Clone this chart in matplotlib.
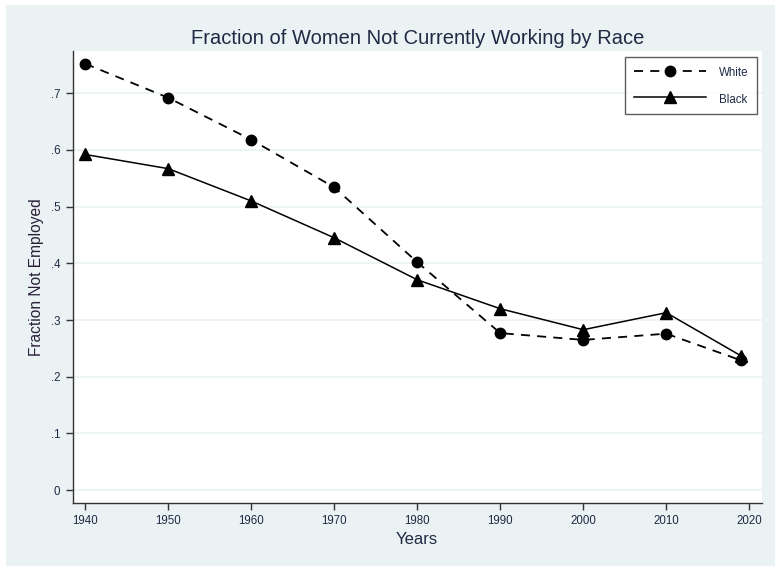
import matplotlib
matplotlib.use("Agg")
import matplotlib.pyplot as plt
from matplotlib.patches import Rectangle
from matplotlib.ticker import FuncFormatter

years = [1940, 1950, 1960, 1970, 1980, 1990, 2000, 2010, 2019]
white = [0.752, 0.692, 0.618, 0.534, 0.402, 0.277, 0.265, 0.276, 0.229]
black = [0.592, 0.567, 0.510, 0.445, 0.371, 0.320, 0.283, 0.313, 0.237]
xticks = [1940, 1950, 1960, 1970, 1980, 1990, 2000, 2010, 2020]
yticks = [0, 0.1, 0.2, 0.3, 0.4, 0.5, 0.6, 0.7]

plt.rcParams['font.family'] = ['Liberation Sans', 'DejaVu Sans']
W, H = 775, 566
fig = plt.figure(figsize=(W / 100, H / 100), dpi=100, facecolor='white')
bg = '#EAF2F3'
txt = '#1F2A44'
fig.patches.append(Rectangle((6 / W, 0), 1 - 6 / W, (H - 5) / H,
                             transform=fig.transFigure, facecolor=bg,
                             edgecolor='none', zorder=-10))

ax = fig.add_axes([72.7 / W, (H - 503) / H, (761.7 - 72.7) / W, (503 - 51) / H])
ax.set_zorder(2)
ax.set_facecolor('white')

ax.plot(years, white, color='black', lw=1.3, ls=(0, (5, 4)), marker='o',
        ms=7.5, label='White', zorder=3)
ax.plot(years, black, color='black', lw=1.1, ls='-', marker='^',
        ms=8, label='Black', zorder=3)

ax.set_xlim(1938.48, 2021.5)
ax.set_ylim(-0.0226, 0.7745)
ax.set_xticks(xticks)
ax.set_yticks(yticks)
ax.yaxis.set_major_formatter(FuncFormatter(
    lambda v, p: '0' if abs(v) < 1e-9 else ('%.1f' % v).lstrip('0')))
ax.grid(axis='y', color=bg, lw=1.2)
ax.set_axisbelow(True)
for s in ['top', 'right']:
    ax.spines[s].set_visible(False)
for s in ['left', 'bottom']:
    ax.spines[s].set_color('#333333')
    ax.spines[s].set_linewidth(1.0)
ax.tick_params(axis='both', length=5, width=1, color='#333333',
               labelsize=8.3, labelcolor=txt, pad=4)

ax.set_title('Fraction of Women Not Currently Working by Race', fontsize=14.5,
             color=txt, pad=5)
ax.set_ylabel('Fraction Not Employed', fontsize=11.2, color='#2A1F3A', labelpad=5)
ax.set_xlabel('Years', fontsize=12, color=txt, labelpad=3)

leg = ax.legend(loc='upper right', bbox_to_anchor=(0.9935, 0.987), fontsize=8.3,
                frameon=True, fancybox=False, handlelength=6.25, handleheight=1.45,
                handletextpad=1.13, borderpad=0.75, labelspacing=1.1,
                borderaxespad=0)
leg.get_frame().set_edgecolor('#333333')
leg.get_frame().set_linewidth(1.0)
for t in leg.get_texts():
    t.set_color(txt)

fig.savefig('out.png', dpi=100, facecolor='white')
